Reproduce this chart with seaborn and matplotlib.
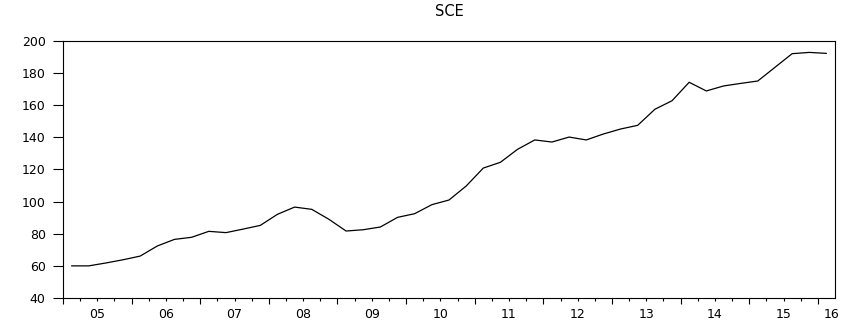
import matplotlib
matplotlib.use("Agg")
import matplotlib.pyplot as plt
import matplotlib.transforms as mtransforms
from matplotlib.ticker import FixedLocator, NullFormatter
import numpy as np
import pandas as pd
import seaborn as sns

# Quarterly SCE series, 2005Q1 - 2016Q1
quarters = [f"{y}Q{q}" for y in range(2005, 2017) for q in range(1, 5)][:45]
sce = [60.0, 60.0, 61.8, 63.8, 66.1, 72.4, 76.5, 77.8, 81.5, 80.7,
       82.9, 85.2, 92.1, 96.6, 95.2, 89.0, 81.7, 82.5, 84.2, 90.2,
       92.5, 98.1, 101.0, 109.7, 120.9, 124.5, 132.6, 138.4, 137.1, 140.2,
       138.4, 142.1, 145.2, 147.5, 157.5, 162.8, 174.3, 168.9, 172.0, 173.6,
       175.1, 183.6, 192.1, 192.9, 192.3]
year_labels = ["05", "06", "07", "08", "09", "10", "11", "12", "13", "14", "15", "16"]
y_ticks = [40, 60, 80, 100, 120, 140, 160, 180, 200]

df = pd.DataFrame({"quarter": quarters, "SCE": sce})
df["pos"] = np.arange(len(df)) + 0.5  # each observation sits mid-quarter

sns.set_style("white")
plt.rcParams["font.family"] = ["DejaVu Sans"]

fig = plt.figure(figsize=(8.48, 3.22), dpi=100)
ax = fig.add_axes([63 / 848, 1 - 298 / 322, (835 - 63) / 848, (298 - 41) / 322])

sns.lineplot(data=df, x="pos", y="SCE", ax=ax, color="black", linewidth=0.9)

ax.set_xlim(0, len(df))
ax.set_ylim(40, 200)
ax.set_xlabel("")
ax.set_ylabel("")

# y axis
ax.set_yticks(y_ticks)
ax.set_yticklabels([str(v) for v in y_ticks], fontsize=9)
ax.tick_params(axis="y", direction="out", length=7, width=0.8, pad=5.5,
               color="black", labelcolor="black")

# x axis: long ticks at year boundaries, short ticks at quarters
year_starts = np.arange(0, len(df), 4)
ax.xaxis.set_major_locator(FixedLocator(year_starts))
ax.xaxis.set_major_formatter(NullFormatter())
ax.xaxis.set_minor_locator(FixedLocator([q for q in range(len(df)) if q % 4 != 0]))
ax.tick_params(axis="x", which="major", direction="out", length=4.5, width=0.8,
               color="black")
ax.tick_params(axis="x", which="minor", direction="out", length=2.2, width=0.8,
               color="black")
ax.tick_params(bottom=True, left=True)
ax.tick_params(axis="x", which="minor", bottom=True)

trans = mtransforms.blended_transform_factory(ax.transData, ax.transAxes)
label_pos = [y0 + 2 for y0 in year_starts]
label_pos[-1] = 44.8
for xp, lab in zip(label_pos, year_labels):
    ax.text(xp, -0.038, lab, transform=trans, ha="center", va="top",
            fontsize=9, color="black")

for s in ax.spines.values():
    s.set_visible(True)
    s.set_color("black")
    s.set_linewidth(0.8)

fig.text((63 + 835) / 2 / 848, 1 - 12 / 322, "SCE", ha="center", va="center",
         fontsize=10.5, color="black")

fig.savefig("out.png", dpi=100)
